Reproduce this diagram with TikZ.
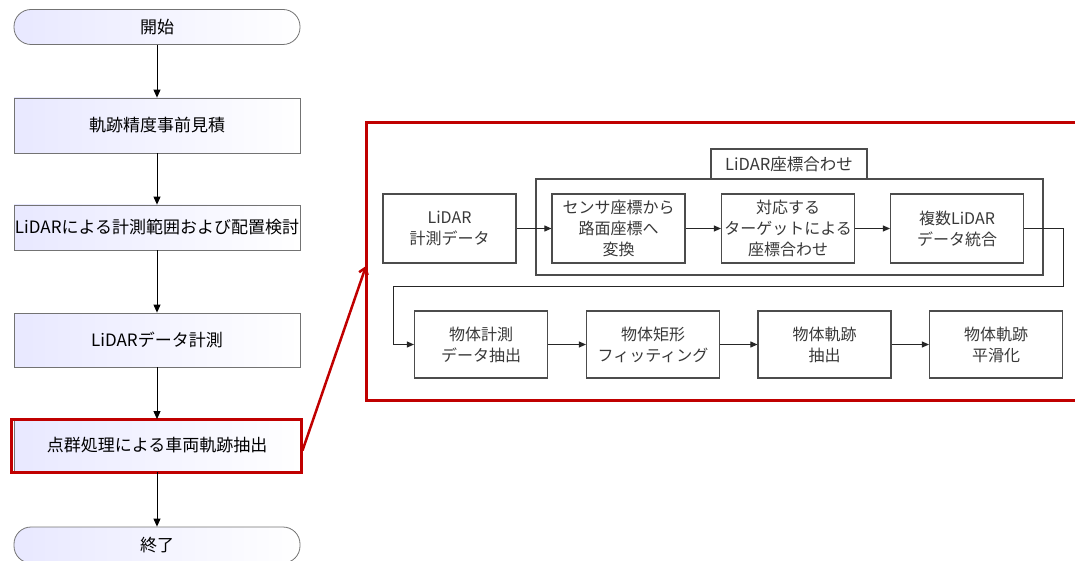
\documentclass[tikz,border=0pt]{standalone}
\usepackage{fontspec}
\setmainfont{Noto Sans CJK JP}
\usetikzlibrary{arrows.meta}
\definecolor{hlred}{HTML}{C00000}
\begin{document}
\begin{tikzpicture}[x=1pt,y=-1pt,
  every node/.style={inner sep=0pt, align=center},
  lbox/.style={draw=black!55, line width=0.8pt, left color=blue!9!white, right color=white,
    minimum width=286pt, text=black, font=\fontsize{17}{20}\selectfont},
  term/.style={lbox, rounded corners=17pt, minimum height=35pt},
  rbox/.style={draw=black!70, line width=1.1pt, minimum width=133pt, minimum height=69pt,
    text=black!78, font=\fontsize{16}{21}\selectfont},
  larr/.style={-{Triangle[length=8pt,width=7pt]}, line width=0.9pt, black},
  rarr/.style={-{Triangle[length=7pt,width=6pt]}, line width=0.9pt, black!85},
]
\useasboundingbox (0,0) rectangle (1075,561);

% left flowchart
\node[term] (start) at (157,27) {開始};
\node[lbox, minimum height=55pt] (b1) at (157,125.5) {軌跡精度事前見積};
\node[lbox, minimum height=45pt] (b2) at (157,227.5) {LiDARによる計測範囲および配置検討};
\node[lbox, minimum height=54pt] (b3) at (157,340) {LiDARデータ計測};
\node[lbox, minimum height=52pt] (b4) at (157,445.5) {点群処理による車両軌跡抽出};
\node[draw=hlred, line width=3pt, minimum width=290pt, minimum height=53pt] (hl) at (156,445.5) {};
\node[term, minimum height=36pt] (end) at (157,545) {終了};

\draw[larr] (start) -- (b1);
\draw[larr] (b1) -- (b2);
\draw[larr] (b2) -- (b3);
\draw[larr] (b3) -- (b4);
\draw[larr] (b4) -- (end);

% red detail frame
\draw[hlred, line width=3pt] (1080,123) -- (366,123) -- (366,400) -- (1080,400);
\coordinate (frametip) at (366,266);
\draw[hlred, line width=2.5pt, -{Straight Barb[length=6pt,width=9pt]}] ([yshift=-5pt]hl.east) -- (frametip);

% group
\draw[black!70, line width=1.1pt] (536,179) rectangle (1043,275);
\node[draw=black!70, line width=1.1pt, fill=white, minimum width=156pt, minimum height=30pt,
  text=black!78, font=\fontsize{16.5}{20}\selectfont] (glabel) at (789,164) {LiDAR座標合わせ};

% right boxes row 1
\node[rbox] (r0) at (449.5,228.5) {LiDAR\\計測データ};
\node[rbox] (c1) at (618.5,228.5) {センサ座標から\\路面座標へ\\変換};
\node[rbox] (c2) at (788,228.5) {対応する\\ターゲットによる\\座標合わせ};
\node[rbox] (c3) at (957,228.5) {複数LiDAR\\データ統合};

% row 2
\node[rbox, minimum height=67pt] (d1) at (481,344.5) {物体計測\\データ抽出};
\node[rbox, minimum height=67pt] (d2) at (653,344.5) {物体矩形\\フィッティング};
\node[rbox, minimum height=67pt] (d3) at (824.5,344.5) {物体軌跡\\抽出};
\node[rbox, minimum height=67pt] (d4) at (996,344.5) {物体軌跡\\平滑化};

\draw[rarr] (r0) -- (c1);
\draw[rarr] (c1) -- (c2);
\draw[rarr] (c2) -- (c3);
\draw[rarr] (c3.east) -- (1063,228.5) -- (1063,286) -- (393,286) |- (d1.west);
\draw[rarr] (d1) -- (d2);
\draw[rarr] (d2) -- (d3);
\draw[rarr] (d3) -- (d4);
\end{tikzpicture}
\end{document}
